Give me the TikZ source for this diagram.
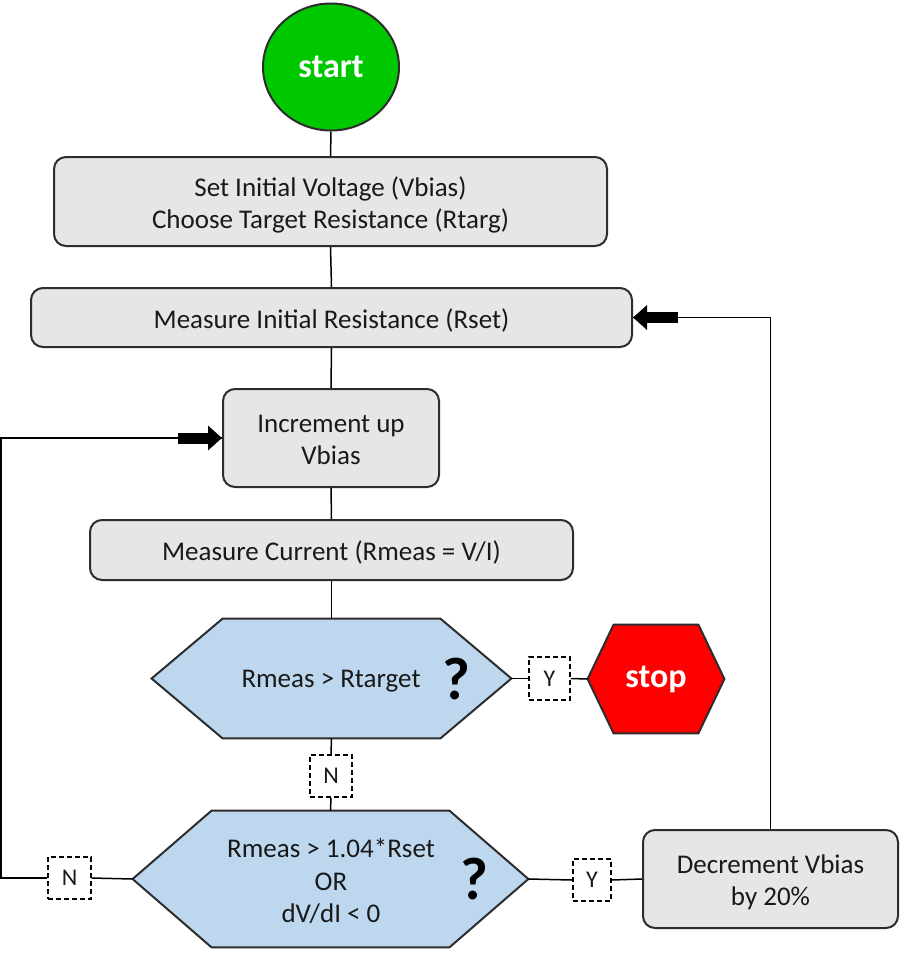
\documentclass[tikz,border=0pt]{standalone}
\usepackage{fontspec}
\setmainfont{Carlito}
\usetikzlibrary{shapes.geometric,arrows.meta}
\definecolor{boxgray}{RGB}{230,230,230}
\definecolor{hexblue}{RGB}{189,215,238}
\definecolor{startgreen}{RGB}{0,200,0}
\definecolor{stopred}{RGB}{255,0,0}
\definecolor{edgegray}{RGB}{45,45,45}
\definecolor{txt}{RGB}{25,25,25}
\pgfdeclarelayer{background}
\pgfsetlayers{background,main}
\begin{document}
\begin{tikzpicture}[x=0.5pt,y=-0.5pt,
  proc/.style={draw=edgegray, line width=1pt, fill=boxgray, rounded corners=6pt, inner sep=0pt},
  ptext/.style={align=center, text=txt, font=\fontsize{13.5}{16.25}\selectfont, inner sep=0pt},
  yn/.style={draw=black, dash pattern=on 2.5pt off 1.5pt, line width=0.75pt, fill=white,
    text=txt, font=\fontsize{12}{13}\selectfont, inner sep=0pt},
  conn/.style={draw=black, line width=0.75pt},
  blockarrow/.style={line width=5.5pt, -{Triangle[width=12pt,length=7pt]}},
  hexbox/.style={inner sep=0pt},
  hexfill/.style={draw=edgegray, line width=1pt, line join=miter},
  qmark/.style={inner sep=0pt, text=black, font=\fontsize{30}{30}\selectfont\bfseries},
  termtext/.style={text=white, font=\fontsize{17}{18}\selectfont\bfseries}
]
\useasboundingbox (0,0) rectangle (900,960);

% nodes
\node[ellipse, draw=edgegray, line width=1pt, fill=startgreen, minimum width=68pt,
  minimum height=63.5pt, inner sep=0pt, termtext] (start) at (331,67) {start};

\node[proc, minimum width=276.5pt, minimum height=44.5pt] (b1) at (330.5,201.5) {};
\node[ptext] (b1t) at ([yshift=-1.7pt]b1.center)
  {Set Initial Voltage (Vbias)\\Choose Target Resistance (Rtarg)};
\node[proc, minimum width=300.5pt, minimum height=29.5pt] (b2) at (331.5,317.5) {};
\node[ptext] (b2t) at ([yshift=-1.5pt]b2.center) {Measure Initial Resistance (Rset)};
\node[proc, minimum width=108pt, minimum height=49pt] (b3) at (331,438) {};
\node[ptext] (b3t) at ([yshift=-1pt]b3.center) {Increment up\\Vbias};
\node[proc, minimum width=241.5pt, minimum height=30pt] (b4) at (331.5,550) {};
\node[ptext] (b4t) at ([yshift=-1pt]b4.center) {Measure Current (Rmeas = V/I)};

\node[hexbox, minimum width=179.5pt, minimum height=59.5pt] (q1) at (331.5,678.5) {};
\node[ptext] (q1t) at (331,681.5) {Rmeas > Rtarget};
\node[qmark] (q1m) at (456,679) {?};

\node[yn, minimum width=20.5pt, minimum height=21.5pt] (y1) at (549.5,678.5) {Y};

\node[hexbox, minimum width=68pt, minimum height=54pt, termtext] (stop) at (656,679) {stop};

\node[yn, minimum width=21pt, minimum height=21pt] (n1) at (331,776) {N};

\node[hexbox, minimum width=197.5pt, minimum height=68pt] (q2) at (330.5,879) {};
\node[ptext] (q2t) at (331,881) {Rmeas > 1.04*Rset\\OR\\dV/dI < 0};
\node[qmark] (q2m) at (474,879) {?};

\node[yn, minimum width=21.5pt, minimum height=21pt] (n2) at (69.5,878) {N};
\node[yn, minimum width=19pt, minimum height=21pt] (y2) at (592,880) {Y};

\node[proc, minimum width=127.5pt, minimum height=49pt] (dec) at (770.5,879) {};
\node[ptext] (dect) at ([yshift=-1.7pt]dec.center) {Decrement Vbias\\by 20\%};

\coordinate (lc) at (1,438);

% shapes behind text
\begin{pgfonlayer}{background}
\fill[white] (0,0) rectangle (900,960);
\draw[hexfill, fill=hexblue] (q1.west) -- ([xshift=35.5pt]q1.north west) -- ([xshift=-35.5pt]q1.north east)
  -- (q1.east) -- ([xshift=-35.5pt]q1.south east) -- ([xshift=35.5pt]q1.south west) -- cycle;
\draw[hexfill, fill=hexblue] (q2.west) -- ([xshift=39.5pt]q2.north west) -- ([xshift=-39.5pt]q2.north east)
  -- (q2.east) -- ([xshift=-39.5pt]q2.south east) -- ([xshift=39.5pt]q2.south west) -- cycle;
\draw[hexfill, fill=stopred] (stop.west) -- ([xshift=13pt]stop.north west) -- ([xshift=-13pt]stop.north east)
  -- (stop.east) -- ([xshift=-13pt]stop.south east) -- ([xshift=13pt]stop.south west) -- cycle;
\end{pgfonlayer}

% connectors
\draw[conn] (start.south) -- (b1.north);
\draw[conn] (b1.south) -- (b2.north);
\draw[conn] (b2.south) -- (b3.north);
\draw[conn] (b3.south) -- (b4.north);
\draw[conn] (b4.south) -- (q1.north);
\draw[conn] (q1.east) -- (y1.west);
\draw[conn] (y1.east) -- (stop.west);
\draw[conn] (q1.south) -- (n1.north);
\draw[conn] (n1.south) -- (q2.north);
\draw[conn] (q2.west) -- (n2.east);
\draw[conn] (q2.east) -- (y2.west);
\draw[conn] (y2.east) -- (dec.west);
\draw[conn] (n2.west) -| (lc) -- (b3.west);
\draw[conn] (dec.north) |- (b2.east);
\draw[blockarrow] ([xshift=-22pt]b3.west) -- (b3.west);
\draw[blockarrow] ([xshift=22.5pt]b2.east) -- (b2.east);
\end{tikzpicture}
\end{document}
